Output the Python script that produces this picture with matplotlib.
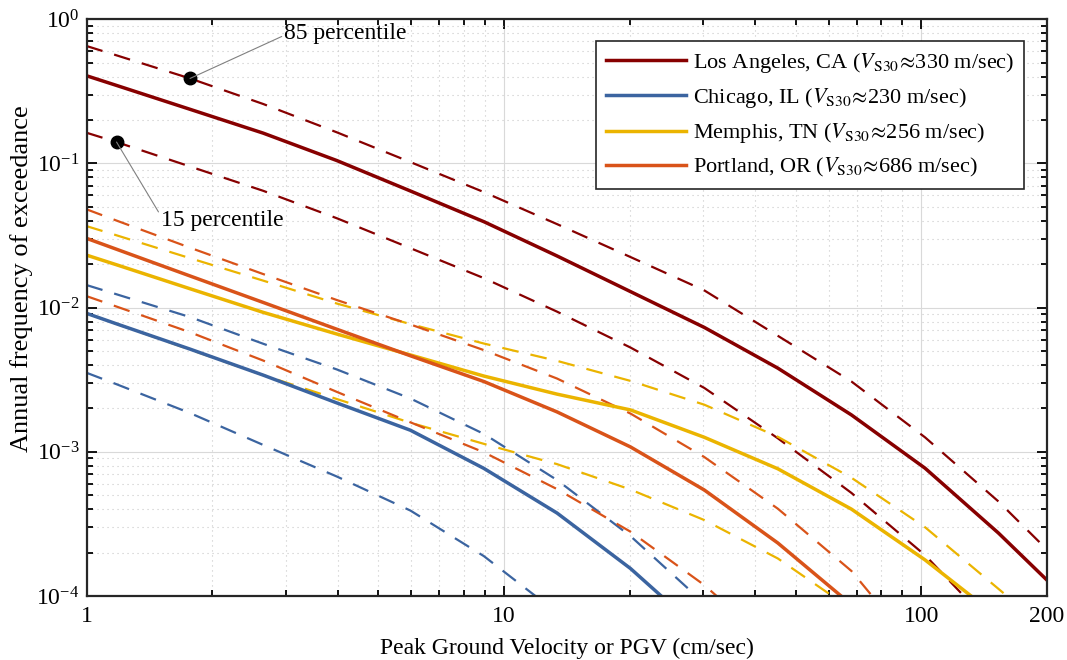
import numpy as np
import matplotlib
matplotlib.use("Agg")
import matplotlib.pyplot as plt
from matplotlib.ticker import LogLocator, NullFormatter, FixedLocator, FixedFormatter

plt.rcParams['font.family'] = ['Liberation Serif', 'DejaVu Serif']
plt.rcParams['mathtext.fontset'] = 'stix'

nan = np.nan

# PGV levels (cm/sec) at which the hazard curves are given
pgv = [1, 1.18, 1.77, 2.65, 3.98, 5.97, 8.95, 13.4, 20.1, 30.2, 45.3, 68, 102, 153, 229]

# Los Angeles
la_med = [0.405, 0.347, 0.237, 0.162, 0.1045, 0.0643, 0.0394, 0.0228, 0.0129, 7.28e-3,
          3.80e-3, 1.80e-3, 7.7e-4, 2.73e-4, 8.8e-5]
la_p85 = [0.651, 0.561, 0.388, 0.258, 0.164, 0.102, 0.0632, 0.0379, 0.0224, 0.01315,
          6.37e-3, 3.07e-3, 1.26e-3, 4.52e-4, 1.42e-4]
la_p15 = [0.163, 0.1405, 0.0951, 0.0645, 0.0416, 0.0258, 0.0160, 9.37e-3, 5.28e-3, 2.77e-3,
          1.24e-3, 5.18e-4, 1.92e-4, 5.6e-5, 1.6e-5]

# Chicago
chi_med = [9.12e-3, 7.71e-3, 5.15e-3, 3.40e-3, 2.18e-3, 1.41e-3, 7.67e-4, 3.76e-4, 1.55e-4,
           5.4e-5, nan, nan, nan, nan, nan]
chi_p85 = [0.01432, 0.01236, 8.59e-3, 5.61e-3, 3.72e-3, 2.34e-3, 1.33e-3, 6.37e-4, 2.60e-4,
           8.9e-5, 2.6e-5, nan, nan, nan, nan]
chi_p15 = [3.53e-3, 2.94e-3, 1.855e-3, 1.115e-3, 6.73e-4, 3.91e-4, 1.89e-4, 7.66e-5, 2.6e-5,
           nan, nan, nan, nan, nan, nan]

# Memphis
mem_med = [0.0231, 0.0198, 0.0135, 9.26e-3, 6.55e-3, 4.69e-3, 3.35e-3, 2.51e-3, 1.95e-3,
           1.26e-3, 7.62e-4, 4.0e-4, 1.78e-4, 7.1e-5, 2.8e-5]
mem_p85 = [0.0367, 0.0317, 0.0220, 0.01537, 0.01066, 7.68e-3, 5.63e-3, 4.27e-3, 3.10e-3,
           2.12e-3, 1.27e-3, 6.6e-4, 3.0e-4, 1.12e-4, 4.2e-5]
mem_p15 = [9.12e-3, 7.71e-3, 5.11e-3, 3.40e-3, 2.32e-3, 1.59e-3, 1.135e-3, 8.21e-4, 5.47e-4,
           3.36e-4, 1.82e-4, 8.1e-5, 2.6e-5, nan, nan]

# Portland
por_med = [0.0302, 0.02537, 0.01656, 0.01085, 7.07e-3, 4.63e-3, 3.07e-3, 1.89e-3, 1.08e-3,
           5.43e-4, 2.33e-4, 8.7e-5, 2.6e-5, nan, nan]
por_p85 = [0.0480, 0.0401, 0.0260, 0.01707, 0.01127, 7.63e-3, 5.07e-3, 3.22e-3, 1.84e-3,
           9.19e-4, 4.03e-4, 1.49e-4, 3.6e-5, nan, nan]
por_p15 = [0.0120, 0.01016, 6.74e-3, 4.29e-3, 2.60e-3, 1.60e-3, 9.92e-4, 5.51e-4, 2.79e-4,
           1.19e-4, 4.2e-5, nan, nan, nan, nan]

labels = [r'Los Angeles, CA ($\mathit{V}_{\mathrm{S30}}\!\approx\!$330 m/sec)',
          r'Chicago, IL ($\mathit{V}_{\mathrm{S30}}\!\approx\!$230 m/sec)',
          r'Memphis, TN ($\mathit{V}_{\mathrm{S30}}\!\approx\!$256 m/sec)',
          r'Portland, OR ($\mathit{V}_{\mathrm{S30}}\!\approx\!$686 m/sec)']
colors = ['#870000', '#3B64A0', '#EBB400', '#D95319']

sites = [(la_med, la_p85, la_p15), (chi_med, chi_p85, chi_p15),
         (mem_med, mem_p85, mem_p15), (por_med, por_p85, por_p15)]

fig = plt.figure(figsize=(10.67, 6.6), dpi=100)
ax = fig.add_axes([0.0811, 0.097, 0.9002, 0.874])

for (med, p85, p15), c, lab in zip(sites, colors, labels):
    ax.plot(pgv, p85, color=c, lw=1.6, dashes=(7.5, 5.5))
    ax.plot(pgv, p15, color=c, lw=1.6, dashes=(7.5, 5.5))
for (med, p85, p15), c, lab in zip(sites, colors, labels):
    ax.plot(pgv, med, color=c, lw=2.5, label=lab)

ax.set_xscale('log')
ax.set_yscale('log')
ax.set_xlim(1, 200)
ax.set_ylim(1e-4, 1)

ax.xaxis.set_major_locator(FixedLocator([1, 10, 100, 200]))
ax.xaxis.set_major_formatter(FixedFormatter(['1', '10', '100', '200']))
ax.xaxis.set_minor_locator(LogLocator(base=10, subs=np.arange(2, 10), numticks=20))
ax.xaxis.set_minor_formatter(NullFormatter())
ax.yaxis.set_major_locator(LogLocator(base=10, numticks=10))
ax.yaxis.set_minor_locator(LogLocator(base=10, subs=np.arange(2, 10), numticks=20))
ax.yaxis.set_minor_formatter(NullFormatter())

ax.tick_params(which='both', direction='in', top=True, right=True, labelsize=17, width=1.3)
ax.tick_params(which='major', length=7)
ax.tick_params(which='minor', length=4)
ax.tick_params(axis='x', pad=7)
ax.tick_params(axis='y', pad=5)
for s in ax.spines.values():
    s.set_linewidth(1.6)
    s.set_color('#262626')

ax.grid(which='major', color='#d9d9d9', lw=0.8, ls='-')
ax.grid(which='minor', color='#c8c8c8', lw=0.8, ls=(0, (1, 3.5)))
ax.set_axisbelow(True)

ax.set_xlabel('Peak Ground Velocity or PGV (cm/sec)', fontsize=17)
ax.set_ylabel('Annual frequency of exceedance', fontsize=19)
ax.xaxis.set_label_coords(0.5, -0.072)
ax.yaxis.set_label_coords(-0.056, 0.55)

# percentile markers and annotations
ax.plot(pgv[2], la_p85[2], 'o', color='k', ms=9)
ax.plot(pgv[1], la_p15[1], 'o', color='k', ms=9)
ax.annotate('85 percentile', xy=(pgv[2], la_p85[2]), xytext=(2.98, 0.80),
            fontsize=17, ha='left', va='center',
            arrowprops=dict(arrowstyle='-', color='#808080', lw=0.8,
                            relpos=(0, 0.4), shrinkA=0, shrinkB=0))
ax.annotate('15 percentile', xy=(pgv[1], la_p15[1]), xytext=(1.51, 0.040),
            fontsize=17, ha='left', va='center',
            arrowprops=dict(arrowstyle='-', color='#808080', lw=0.8,
                            relpos=(0, 0.7), shrinkA=0, shrinkB=0))

leg = ax.legend(loc='upper right', fontsize=16, handlelength=3.6, handletextpad=0.3,
                borderpad=0.45, labelspacing=0.5, fancybox=False,
                bbox_to_anchor=(0.976, 0.962), borderaxespad=0)
leg.get_frame().set_edgecolor('#262626')
leg.get_frame().set_linewidth(1.2)
leg.get_frame().set_alpha(1)

fig.savefig('out.png', dpi=100)
